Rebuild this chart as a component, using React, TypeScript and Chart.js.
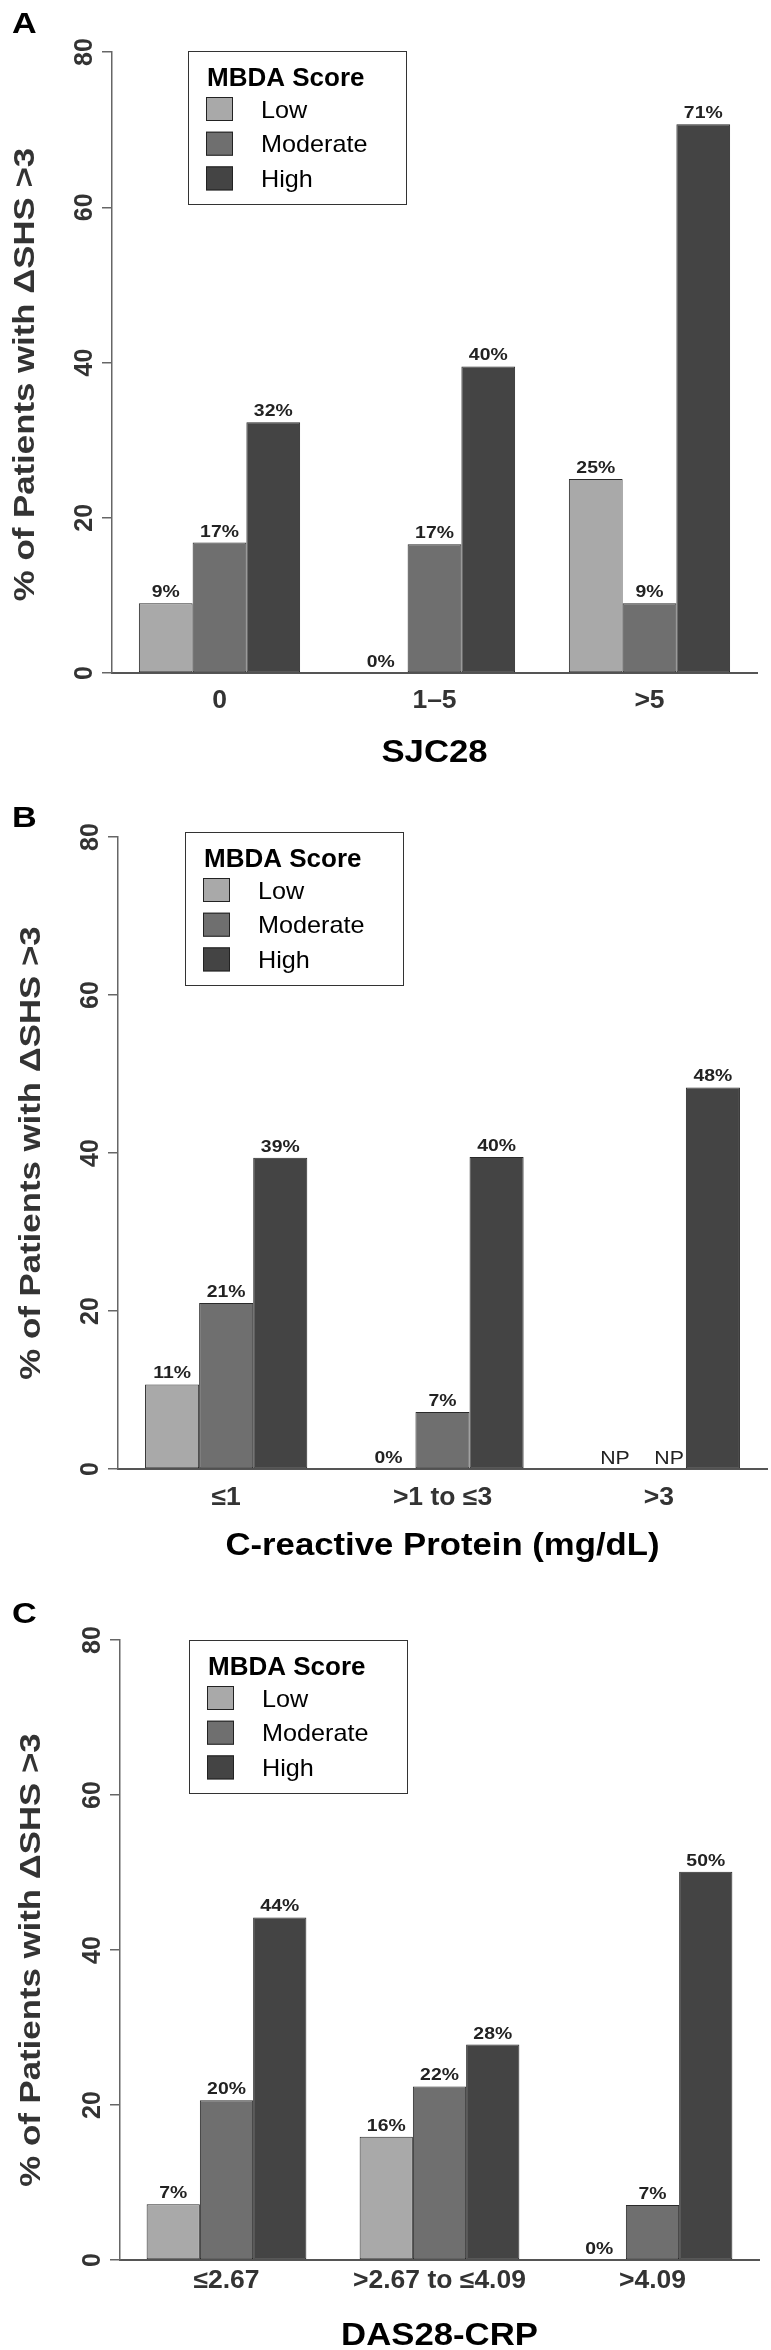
import React, { useEffect, useRef } from "react";
import { Chart, registerables } from "chart.js";

Chart.register(...registerables);

const PAGE_WIDTH = 771;
const FONT = '"Liberation Sans", Arial, Helvetica, sans-serif';

// ---- shared ----
const seriesNames = ["Low", "Moderate", "High"];
const seriesColors = ["#a9a9a9", "#6f6f6f", "#444444"];
const legendTitle = "MBDA Score";
const yAxisTitle = "% of Patients with ΔSHS >3";
const yTickValues = [0, 20, 40, 60, 80];

// ---- Panel A: SJC28 ----
const sjcCategories = ["0", "1–5", ">5"];
const sjcLow = [9.0, 0, 25.0];
const sjcModerate = [16.8, 16.6, 9.0];
const sjcHigh = [32.3, 39.5, 70.7];
const sjcLowLabels = ["9%", "0%", "25%"];
const sjcModerateLabels = ["17%", "17%", "9%"];
const sjcHighLabels = ["32%", "40%", "71%"];

// ---- Panel B: C-reactive Protein ----
const crpCategories = ["≤1", ">1 to ≤3", ">3"];
const crpLow = [10.7, 0, null];
const crpModerate = [21.0, 7.2, null];
const crpHigh = [39.4, 39.5, 48.3];
const crpLowLabels = ["11%", "0%", "NP"];
const crpModerateLabels = ["21%", "7%", "NP"];
const crpHighLabels = ["39%", "40%", "48%"];

// ---- Panel C: DAS28-CRP ----
const dasCategories = ["≤2.67", ">2.67 to ≤4.09", ">4.09"];
const dasLow = [7.2, 15.9, 0];
const dasModerate = [20.6, 22.4, 7.1];
const dasHigh = [44.2, 27.8, 50.1];
const dasLowLabels = ["7%", "16%", "0%"];
const dasModerateLabels = ["20%", "22%", "7%"];
const dasHighLabels = ["44%", "28%", "50%"];

type Area = { left: number; right: number; top: number; bottom: number };
type PanelDef = {
  letter: string;
  xTitle: string;
  categories: string[];
  series: (number | null)[][];
  valueLabels: string[][];
  canvasTop: number;
  canvasHeight: number;
  letterBaseline: number;
  area: Area;
  catBaseline: number;
  titleBaseline: number;
  yTitleX: number;
  yTitleShift: number;
  legendX: number;
  legendY: number;
};

const panels: PanelDef[] = [
  {
    letter: "A",
    xTitle: "SJC28",
    categories: sjcCategories,
    series: [sjcLow, sjcModerate, sjcHigh],
    valueLabels: [sjcLowLabels, sjcModerateLabels, sjcHighLabels],
    canvasTop: 0,
    canvasHeight: 776,
    letterBaseline: 33,
    area: { left: 112, right: 757, top: 52, bottom: 673 },
    catBaseline: 708,
    titleBaseline: 762,
    yTitleX: 34,
    yTitleShift: 12,
    legendX: 188,
    legendY: 51,
  },
  {
    letter: "B",
    xTitle: "C-reactive Protein (mg/dL)",
    categories: crpCategories,
    series: [crpLow, crpModerate, crpHigh],
    valueLabels: [crpLowLabels, crpModerateLabels, crpHighLabels],
    canvasTop: 776,
    canvasHeight: 794,
    letterBaseline: 827,
    area: { left: 118, right: 767, top: 837, bottom: 1469 },
    catBaseline: 1505,
    titleBaseline: 1555,
    yTitleX: 40,
    yTitleShift: 0,
    legendX: 185,
    legendY: 832,
  },
  {
    letter: "C",
    xTitle: "DAS28-CRP",
    categories: dasCategories,
    series: [dasLow, dasModerate, dasHigh],
    valueLabels: [dasLowLabels, dasModerateLabels, dasHighLabels],
    canvasTop: 1570,
    canvasHeight: 780,
    letterBaseline: 1623,
    area: { left: 120, right: 759, top: 1640, bottom: 2260 },
    catBaseline: 2288,
    titleBaseline: 2345,
    yTitleX: 40,
    yTitleShift: 10,
    legendX: 189,
    legendY: 1640,
  },
];

type TextOpts = {
  font: string;
  color: string;
  align?: CanvasTextAlign;
  rotate?: number;
  sx?: number;
};

function drawText(ctx: CanvasRenderingContext2D, text: string, x: number, y: number, o: TextOpts) {
  ctx.save();
  ctx.translate(x, y);
  if (o.rotate) ctx.rotate(o.rotate);
  ctx.scale(o.sx ?? 1, 1);
  ctx.font = o.font;
  ctx.fillStyle = o.color;
  ctx.textAlign = o.align ?? "center";
  ctx.textBaseline = "alphabetic";
  ctx.fillText(text, 0, 0);
  ctx.restore();
}

function makeOverlay(panel: PanelDef) {
  return {
    id: "overlay" + panel.letter,
    afterDraw(chart: any) {
      const ctx: CanvasRenderingContext2D = chart.ctx;
      const xs = chart.scales.x;
      const ys = chart.scales.y;
      const area = chart.chartArea;
      const off = panel.canvasTop;

      // panel letter
      drawText(ctx, panel.letter, 12, panel.letterBaseline - off, {
        font: `bold 29px ${FONT}`,
        color: "#000",
        align: "left",
        sx: 1.18,
      });

      // y tick labels (rotated, as in R)
      yTickValues.forEach((v) => {
        drawText(ctx, String(v), area.left - 20, ys.getPixelForValue(v), {
          font: `bold 25px ${FONT}`,
          color: "#333",
          rotate: -Math.PI / 2,
        });
      });

      // y axis title
      drawText(
        ctx,
        yAxisTitle,
        panel.yTitleX,
        (area.top + area.bottom) / 2 + panel.yTitleShift,
        {
          font: `bold 29px ${FONT}`,
          color: "#333",
          rotate: -Math.PI / 2,
          sx: 1.2,
        }
      );

      // category labels
      panel.categories.forEach((c, i) => {
        drawText(ctx, c, xs.getPixelForValue(i), panel.catBaseline - off, {
          font: `bold 25px ${FONT}`,
          color: "#333",
          sx: 1.06,
        });
      });

      // x axis title
      drawText(ctx, panel.xTitle, (area.left + area.right) / 2, panel.titleBaseline - off, {
        font: `bold 31px ${FONT}`,
        color: "#000",
        sx: 1.12,
      });

      // value labels
      chart.data.datasets.forEach((ds: any, di: number) => {
        const meta = chart.getDatasetMeta(di);
        meta.data.forEach((el: any, i: number) => {
          const text = panel.valueLabels[di][i];
          const v = ds.data[i];
          const isNP = v === null || v === undefined;
          if (isNP) {
            // "not present" marker, set against the right edge of its empty slot
            drawText(ctx, text, el.x + el.width / 2 - 2, ys.getPixelForValue(0) - 5, {
              font: `19px ${FONT}`,
              color: "#222",
              align: "right",
              sx: 1.12,
            });
          } else {
            drawText(ctx, text, el.x, ys.getPixelForValue(v) - 6, {
              font: `bold 17px ${FONT}`,
              color: "#222",
              sx: 1.14,
            });
          }
        });
      });

      // legend
      const lx = panel.legendX;
      const ly = panel.legendY - off;
      ctx.save();
      ctx.strokeStyle = "#333";
      ctx.lineWidth = 1;
      ctx.strokeRect(lx + 0.5, ly + 0.5, 218, 153);
      ctx.restore();
      drawText(ctx, legendTitle, lx + 19, ly + 35, {
        font: `bold 25px ${FONT}`,
        color: "#000",
        align: "left",
        sx: 1.04,
      });
      chart.data.datasets.forEach((ds: any, i: number) => {
        const sy = ly + 46 + i * 34.7;
        ctx.save();
        ctx.fillStyle = ds.backgroundColor;
        ctx.fillRect(lx + 18, sy, 27, 24);
        ctx.strokeStyle = "#222";
        ctx.lineWidth = 1;
        ctx.strokeRect(lx + 18.5, sy + 0.5, 26, 23);
        ctx.restore();
        drawText(ctx, ds.label, lx + 73, sy + 12 + 8.5, {
          font: `24px ${FONT}`,
          color: "#000",
          align: "left",
          sx: 1.05,
        });
      });
    },
  };
}

function Panel({ panel }: { panel: PanelDef }) {
  const ref = useRef<HTMLCanvasElement>(null);
  useEffect(() => {
    const canvas = ref.current;
    if (!canvas) return;
    const a = panel.area;
    const off = panel.canvasTop;
    const chart = new Chart(canvas, {
      type: "bar",
      data: {
        labels: panel.categories,
        datasets: panel.series.map((vals, i) => ({
          label: seriesNames[i],
          data: vals as any,
          backgroundColor: seriesColors[i],
          borderColor: "#2a2a2a",
          borderWidth: 1,
          borderSkipped: false,
          barPercentage: 1,
          categoryPercentage: 0.75,
        })),
      },
      options: {
        responsive: false,
        maintainAspectRatio: false,
        animation: false,
        devicePixelRatio: 1,
        layout: {
          padding: { top: a.top - off, right: PAGE_WIDTH - a.right, left: 0, bottom: 0 },
        },
        plugins: {
          legend: { display: false },
          tooltip: { enabled: false },
        },
        scales: {
          x: {
            type: "category",
            grid: { display: true, drawOnChartArea: false, drawTicks: false },
            border: { display: true, color: "#555", width: 2 },
            ticks: { display: false },
            afterFit: (s: any) => {
              s.height = panel.canvasHeight - (a.bottom - off);
            },
          },
          y: {
            min: 0,
            max: 80,
            ticks: { display: false, stepSize: 20 },
            grid: {
              display: true,
              drawOnChartArea: false,
              drawTicks: true,
              tickLength: 10,
              color: "#666",
              lineWidth: 1.5,
            },
            border: { display: true, color: "#666", width: 1.5 },
            afterFit: (s: any) => {
              s.width = a.left;
            },
          },
        },
      } as any,
      plugins: [makeOverlay(panel)],
    });
    return () => chart.destroy();
  }, [panel]);
  return (
    <canvas
      ref={ref}
      width={PAGE_WIDTH}
      height={panel.canvasHeight}
      style={{ display: "block", width: PAGE_WIDTH, height: panel.canvasHeight }}
    />
  );
}

export default function App() {
  return (
    <div style={{ position: "absolute", left: 0, top: 0, width: PAGE_WIDTH, background: "#fff" }}>
      {panels.map((p) => (
        <Panel key={p.letter} panel={p} />
      ))}
    </div>
  );
}
